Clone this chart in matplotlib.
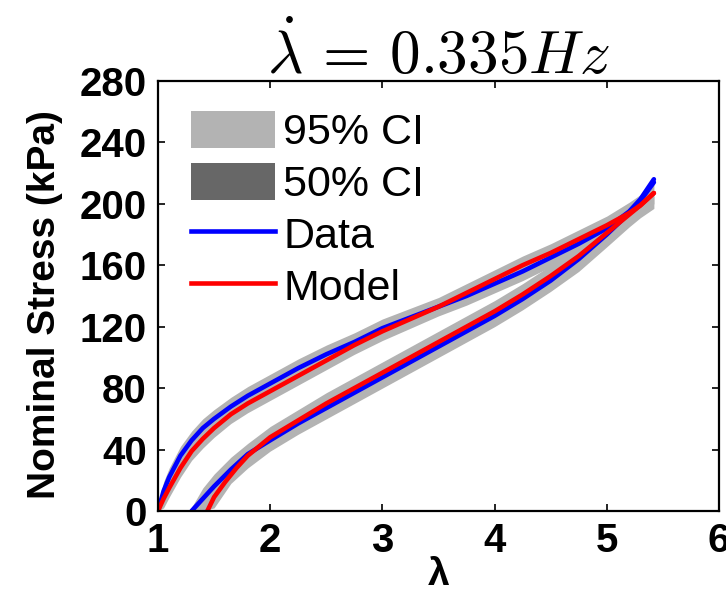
import matplotlib
matplotlib.use("Agg")
import matplotlib.pyplot as plt
from matplotlib.patches import Patch
from matplotlib.lines import Line2D

plt.rcParams["font.family"] = ["Liberation Sans", "DejaVu Sans"]
plt.rcParams["mathtext.fontset"] = "cm"

BLUE = "#0000ff"
RED = "#ff0000"
CI95 = "#b3b3b3"
CI50 = "#676767"

# loading branch (stretch up to the peak)
lam_load = [1.0, 1.05, 1.1, 1.2, 1.3, 1.4, 1.5, 1.65, 1.8, 2.0, 2.25, 2.5,
            2.75, 3.0, 3.25, 3.5, 3.75, 4.0, 4.25, 4.5, 4.75, 5.0, 5.2, 5.3, 5.42]
data_load = [0, 13, 22, 36, 46, 54, 60, 68, 75, 83, 93, 102,
             110, 119, 126, 133, 140, 148, 156, 165, 174, 184, 195, 203, 216]
model_load = [0, 8, 15, 28, 39, 47, 54, 63, 70, 78, 88, 98,
              108, 117, 125, 133, 142, 151, 160, 168, 177, 186, 194, 199, 207]
ci95_load_hi = [3, 19, 28, 42, 52, 60, 66, 74, 81, 89, 99, 108,
                116, 125, 132, 139, 148, 157, 166, 174, 183, 192, 201, 206, 213]
ci95_load_lo = [0, 2, 9, 22, 33, 41, 48, 57, 64, 72, 82, 92,
                102, 111, 119, 127, 134, 142, 150, 159, 168, 178, 188, 193, 200]

# unloading branch (back down from the peak)
lam_unload = [5.42, 5.3, 5.2, 5.0, 4.75, 4.5, 4.25, 4.0, 3.75, 3.5, 3.25,
              3.0, 2.75, 2.5, 2.25, 2.0, 1.8, 1.65, 1.5, 1.4, 1.3]
data_unload = [214, 202, 194, 180, 164, 150, 138, 127, 117, 107, 97,
               87, 77, 67, 57, 46, 37, 27, 16, 8, 0]

lam_model_unload = [5.42, 5.3, 5.2, 5.0, 4.75, 4.5, 4.25, 4.0, 3.75, 3.5, 3.25,
                    3.0, 2.75, 2.5, 2.25, 2.0, 1.8, 1.7, 1.6, 1.5, 1.44]
model_unload = [207, 199, 193, 181, 166, 153, 141, 130, 120, 110, 100,
                90, 80, 70, 59, 48, 36, 28, 19, 9, 0]

lam_ci_unload = [5.42, 5.3, 5.2, 5.0, 4.75, 4.5, 4.25, 4.0, 3.75, 3.5, 3.25,
                 3.0, 2.75, 2.5, 2.25, 2.0, 1.8, 1.65, 1.5, 1.4, 1.28]
ci95_unload_hi = [205, 203, 199, 188, 173, 160, 148, 137, 127, 117, 107,
                  97, 87, 77, 66, 55, 44, 35, 24, 15, 0]
ci95_unload_lo = [197, 191, 185, 172, 156, 143, 131, 120, 110, 100, 90,
                  80, 70, 60, 50, 39, 28, 18, 2, 0, 0]

fig = plt.figure(figsize=(7.26, 6.04), dpi=100)
ax = fig.add_axes([0.2176, 0.154, 0.7727, 0.712])

ax.fill_between(lam_load, ci95_load_lo, ci95_load_hi, color=CI95, lw=0)
ax.fill_between(lam_ci_unload, ci95_unload_lo, ci95_unload_hi, color=CI95, lw=0)

ax.plot(lam_load, data_load, color=BLUE, lw=3.3, solid_capstyle="round")
ax.plot(lam_unload, data_unload, color=BLUE, lw=3.3, solid_capstyle="round")
ax.plot(lam_load, model_load, color=RED, lw=3.3, solid_capstyle="round")
ax.plot(lam_model_unload, model_unload, color=RED, lw=3.3, solid_capstyle="round")

ax.set_xlim(1, 6)
ax.set_ylim(0, 280)
ax.set_xticks([1, 2, 3, 4, 5, 6])
ax.set_yticks(range(0, 281, 40))
ax.tick_params(direction="in", length=5, width=1.2, top=True, right=True,
               labelsize=29, pad=8)
for lbl in ax.get_xticklabels() + ax.get_yticklabels():
    lbl.set_fontweight("bold")
for spine in ax.spines.values():
    spine.set_linewidth(1.6)

ax.set_xlabel("λ", fontsize=28, fontweight="bold", labelpad=-2)
ax.set_ylabel("Nominal Stress (kPa)", fontsize=28, fontweight="bold")
ax.yaxis.set_label_coords(-0.17, 0.48)
ax.set_title(r"$\dot{\lambda}\,=\,0.335Hz$", fontsize=44, pad=5)

handles = [
    Patch(facecolor=CI95, edgecolor="none"),
    Patch(facecolor=CI50, edgecolor="none"),
    Line2D([], [], color=BLUE, lw=3.3),
    Line2D([], [], color=RED, lw=3.3),
]
ax.legend(handles, ["95% CI", "50% CI", "Data", "Model"], loc="upper left",
          bbox_to_anchor=(0.012, 0.99), frameon=False, fontsize=31,
          handlelength=1.95, handleheight=0.95, handletextpad=0.2,
          labelspacing=0.22, borderaxespad=0.3, borderpad=0.3)

fig.savefig("out.png", dpi=100)
